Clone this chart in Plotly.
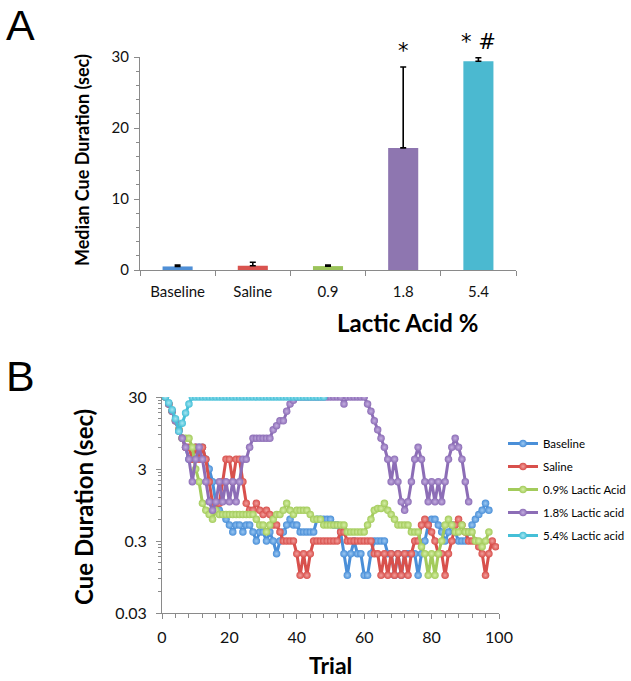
import math
import plotly.graph_objects as go

W, H = 631, 681

# ---------------- Panel A data ----------------
categories = ["Baseline", "Saline", "0.9", "1.8", "5.4"]
median_duration = [0.5, 0.6, 0.55, 17.2, 29.4]
error_plus = [0.2, 0.5, 0.15, 11.4, 0.5]
sig_labels = ["", "", "", "*", "* #"]
bar_colors = ["#4F8FD6", "#D9534F", "#9BC35A", "#8E76B0", "#4BB9D0"]
y_max_a = 30

# ---------------- Panel B data ----------------
series_names = ["Baseline", "Saline", "0.9% Lactic Acid", "1.8% Lactic acid", "5.4% Lactic acid"]

baseline = [30, 24, 19, 14, 10.5, 8, 6, 4.1, 4.1, 6,
            6, 6, 4.1, 3, 2, 1, 0.8, 0.7, 0.6, 0.5,
            0.4, 0.5, 0.5, 0.4, 0.5, 0.5, 0.4, 0.3, 0.4, 0.4,
            0.3, 0.4, 0.3, 0.2, 0.3, 0.4, 0.5, 0.6, 0.5, 0.5,
            0.4, 0.4, 0.4, 0.4, 0.4, 0.6, 0.6, 0.6, 0.6, 0.6,
            0.5, 0.5, 0.4, 0.2, 0.1, 0.2, 0.3, 0.2, 0.2, 0.1,
            0.1, 0.2, 0.3, 0.3, 0.3, 0.3, 0.2, 0.2, 0.1, 0.2,
            0.1, 0.2, 0.2, 0.2, 0.2, 0.1, 0.2, 0.3, 0.5, 0.6,
            0.6, 0.5, 0.4, 0.3, 0.4, 0.5, 0.4, 0.3, 0.3, 0.3,
            0.4, 0.5, 0.6, 0.7, 0.8, 1.0, 0.8]

saline = [30, 24, 19, 14, 10.5, 8, 6, 6, 4.1, 6,
          4.1, 6, 4.1, 2, 1, 1, 1, 2, 4.1, 4.1,
          2, 4.1, 4.1, 2, 1, 0.8, 0.8, 1.0, 0.8, 0.7,
          0.8, 0.7, 0.5, 0.5, 0.4, 0.3, 0.3, 0.3, 0.3, 0.2,
          0.1, 0.2, 0.1, 0.2, 0.3, 0.3, 0.3, 0.3, 0.3, 0.3,
          0.3, 0.3, 0.4, 0.4, 0.3, 0.3, 0.3, 0.3, 0.3, 0.3,
          0.3, 0.3, 0.2, 0.2, 0.1, 0.2, 0.1, 0.2, 0.1, 0.2,
          0.1, 0.2, 0.1, 0.2, 0.3, 0.3, 0.5, 0.6, 0.5, 0.4,
          0.3, 0.2, 0.2, 0.1, 0.2, 0.3, 0.5, 0.6, 0.5, 0.4,
          0.3, 0.3, 0.3, 0.25, 0.2, 0.1, 0.2, 0.3, 0.25]

lactic_09 = [30, 24, 19, 14, 10.5, 8, 8, 8, 6, 3,
             2, 1, 0.8, 0.7, 0.6, 0.8, 0.7, 0.7, 0.7, 0.7,
             0.7, 0.7, 0.7, 0.7, 0.7, 0.7, 0.7, 0.6, 0.5, 0.5,
             0.4, 0.5, 0.6, 0.7, 0.7, 0.8, 1.0, 0.8, 0.7, 0.8,
             0.8, 0.8, 0.8, 0.7, 0.6, 0.6, 0.6, 0.5, 0.5, 0.5,
             0.5, 0.5, 0.5, 0.5, 0.4, 0.4, 0.4, 0.4, 0.4, 0.4,
             0.5, 0.6, 0.8, 0.85, 0.85, 1.0, 0.8, 0.7, 0.6, 0.5,
             0.5, 0.5, 0.5, 0.4, 0.4, 0.4, 0.25, 0.2, 0.1, 0.2,
             0.1, 0.2, 0.3, 0.5, 0.6, 0.5, 0.4, 0.4, 0.5, 0.4,
             0.4, 0.4, 0.3, 0.3, 0.25, 0.3, 0.4]

lactic_18 = [30, 24, 19, 14, 10, 8, 6, 4.1, 2, 4.1,
             6, 4.1, 2, 1.05, 0.8, 1.05, 2, 1.05, 2, 1.05,
             2, 1.05, 2, 4.1, 4.1, 6, 8, 8, 8, 8,
             8, 8, 10.5, 12, 14, 14, 19, 24, 27, 30,
             30, 30, 30, 30, 30, 30, 30, 30, 30, 30,
             30, 30, 30, 24, 30, 30, 30, 30, 30, 30,
             24, 19, 14, 10.5, 8, 6, 4.1, 2, 4.1, 2,
             1.05, 0.8, 1.05, 2, 4.1, 6, 4.1, 2, 1.05, 2,
             1.05, 2, 1.05, 2, 4.1, 6, 8, 6, 4.1, 2,
             1.05]

lactic_54 = [30, 25, 20, 15, 10, 13, 18, 24, 30, 30,
             30, 30, 30, 30, 30, 30, 30, 30, 30, 30,
             30, 30, 30, 30, 30, 30, 30, 30, 30, 30,
             30, 30, 30, 30, 30, 30, 30, 30, 30, 30,
             30, 30, 30, 30, 30, 30, 30, 30]

series_values = [baseline, saline, lactic_09, lactic_18, lactic_54]
line_colors = ["#4A8FD8", "#D8504C", "#A3CB5B", "#8C6DB6", "#45BFD7"]
center_colors = ["#9CC8F2", "#F2A09D", "#D6EFA6", "#C4AEE0", "#A6E6F2"]

y_tick_vals_b = [0.03, 0.3, 3, 30]
y_tick_text_b = ["0.03", "0.3", "3", "30"]

fig = go.Figure()

# ---------------- Panel A ----------------
fig.add_trace(go.Bar(
    x=list(range(len(categories))), y=median_duration, width=0.4,
    marker=dict(color=bar_colors, line=dict(width=0)),
    error_y=dict(type="data", symmetric=False, array=error_plus,
                 arrayminus=[0] * len(error_plus),
                 color="black", thickness=1.6, width=3),
    xaxis="x", yaxis="y", showlegend=False, hoverinfo="skip"))

# ---------------- Panel B ----------------
for name, vals, lc, cc in zip(series_names, series_values, line_colors, center_colors):
    fig.add_trace(go.Scatter(
        x=list(range(1, len(vals) + 1)), y=vals, name=name,
        mode="lines+markers",
        line=dict(color=lc, width=3),
        marker=dict(size=7.5, color=lc, gradient=dict(type="radial", color=cc),
                    line=dict(width=0)),
        xaxis="x2", yaxis="y2", legendgroup=name))

axis_col = "#8A8A8A"
tick_font = dict(family="Lato, Open Sans, sans-serif", size=15, color="#111")

minor_b = []
for base in [0.03, 0.3, 3]:
    for k in range(2, 10):
        minor_b.append(base * k)

annotations = []
# significance marks (placed in the y-axis domain frame so they can sit above 30)
for i, lab in enumerate(sig_labels):
    if lab:
        annotations.append(dict(
            x=i, y=(median_duration[i] + error_plus[i] + 2.2) / y_max_a,
            xref="x", yref="y domain", text=lab, showarrow=False,
            font=dict(family="DejaVu Sans, sans-serif", size=21, color="black"),
            xanchor="center", yanchor="middle"))


def pa(x, y, text, size, family="Lato, sans-serif", angle=0, xa="center", ya="middle"):
    return dict(x=x / W, y=1 - y / H, xref="paper", yref="paper", text=text,
                showarrow=False, textangle=angle, xanchor=xa, yanchor=ya,
                font=dict(family=family, size=size, color="black"))


annotations += [
    pa(20, 25, "A", 43, family="Liberation Sans, Arial, sans-serif"),
    pa(20, 376, "B", 43, family="Liberation Sans, Arial, sans-serif"),
    pa(82, 160, "<b>Median Cue Duration (sec)</b>", 18, angle=-90),
    pa(407, 322, "<b>Lactic Acid %</b>", 24),
    pa(83, 507, "<b>Cue Duration (sec)</b>", 24, angle=-90),
    pa(330, 665, "<b>Trial</b>", 23),
]

fig.update_layout(
    width=W, height=H, autosize=False,
    margin=dict(l=0, r=0, t=0, b=0, autoexpand=False),
    paper_bgcolor="white", plot_bgcolor="white",
    xaxis=dict(domain=[140 / W, 516 / W], anchor="y",
               range=[-0.5, len(categories) - 0.5],
               tickvals=list(range(len(categories))), ticktext=categories,
               ticks="", ticklabelstandoff=8, showline=True, linecolor=axis_col,
               linewidth=1, showgrid=False, zeroline=False, tickfont=tick_font,
               minor=dict(tickvals=[k - 0.5 for k in range(len(categories) + 1)],
                          ticks="outside", ticklen=5, tickcolor=axis_col)),
    yaxis=dict(domain=[1 - 270 / H, 1 - 57 / H], anchor="x", range=[0, y_max_a],
               dtick=10, ticks="outside", ticklen=5, tickcolor=axis_col,
               ticklabelstandoff=2,
               minor=dict(dtick=2, ticks="outside", ticklen=3, tickcolor=axis_col),
               showline=True, linecolor=axis_col, linewidth=1, showgrid=False,
               zeroline=False, tickfont=tick_font),
    xaxis2=dict(domain=[162 / W, 499 / W], anchor="y2", range=[0, 100],
                dtick=20, ticks="outside", ticklen=5, tickcolor=axis_col,
                ticklabelstandoff=5,
                minor=dict(dtick=4, ticks="outside", ticklen=4, tickcolor=axis_col),
                showline=True, linecolor=axis_col, linewidth=1, showgrid=False,
                zeroline=False, tickfont=dict(tick_font, size=16)),
    yaxis2=dict(domain=[1 - 613 / H, 1 - 397 / H], anchor="x2", type="log",
                range=[math.log10(0.03), math.log10(30)],
                tickvals=y_tick_vals_b, ticktext=y_tick_text_b,
                ticks="outside", ticklen=5, tickcolor=axis_col, ticklabelstandoff=6,
                minor=dict(tickvals=minor_b, ticks="outside", ticklen=3, tickcolor=axis_col),
                showline=True, linecolor=axis_col, linewidth=1, showgrid=False,
                zeroline=False, tickfont=dict(tick_font, size=16)),
    legend=dict(x=503 / W, y=1 - 429 / H, xanchor="left", yanchor="top",
                font=dict(family="Lato, sans-serif", size=11.5, color="black"),
                tracegroupgap=4, itemwidth=30, bgcolor="rgba(0,0,0,0)"),
    annotations=annotations,
)

fig.write_html("out.html", config={"displayModeBar": False},
               post_script="document.body.style.margin='0';document.body.style.padding='0';")
